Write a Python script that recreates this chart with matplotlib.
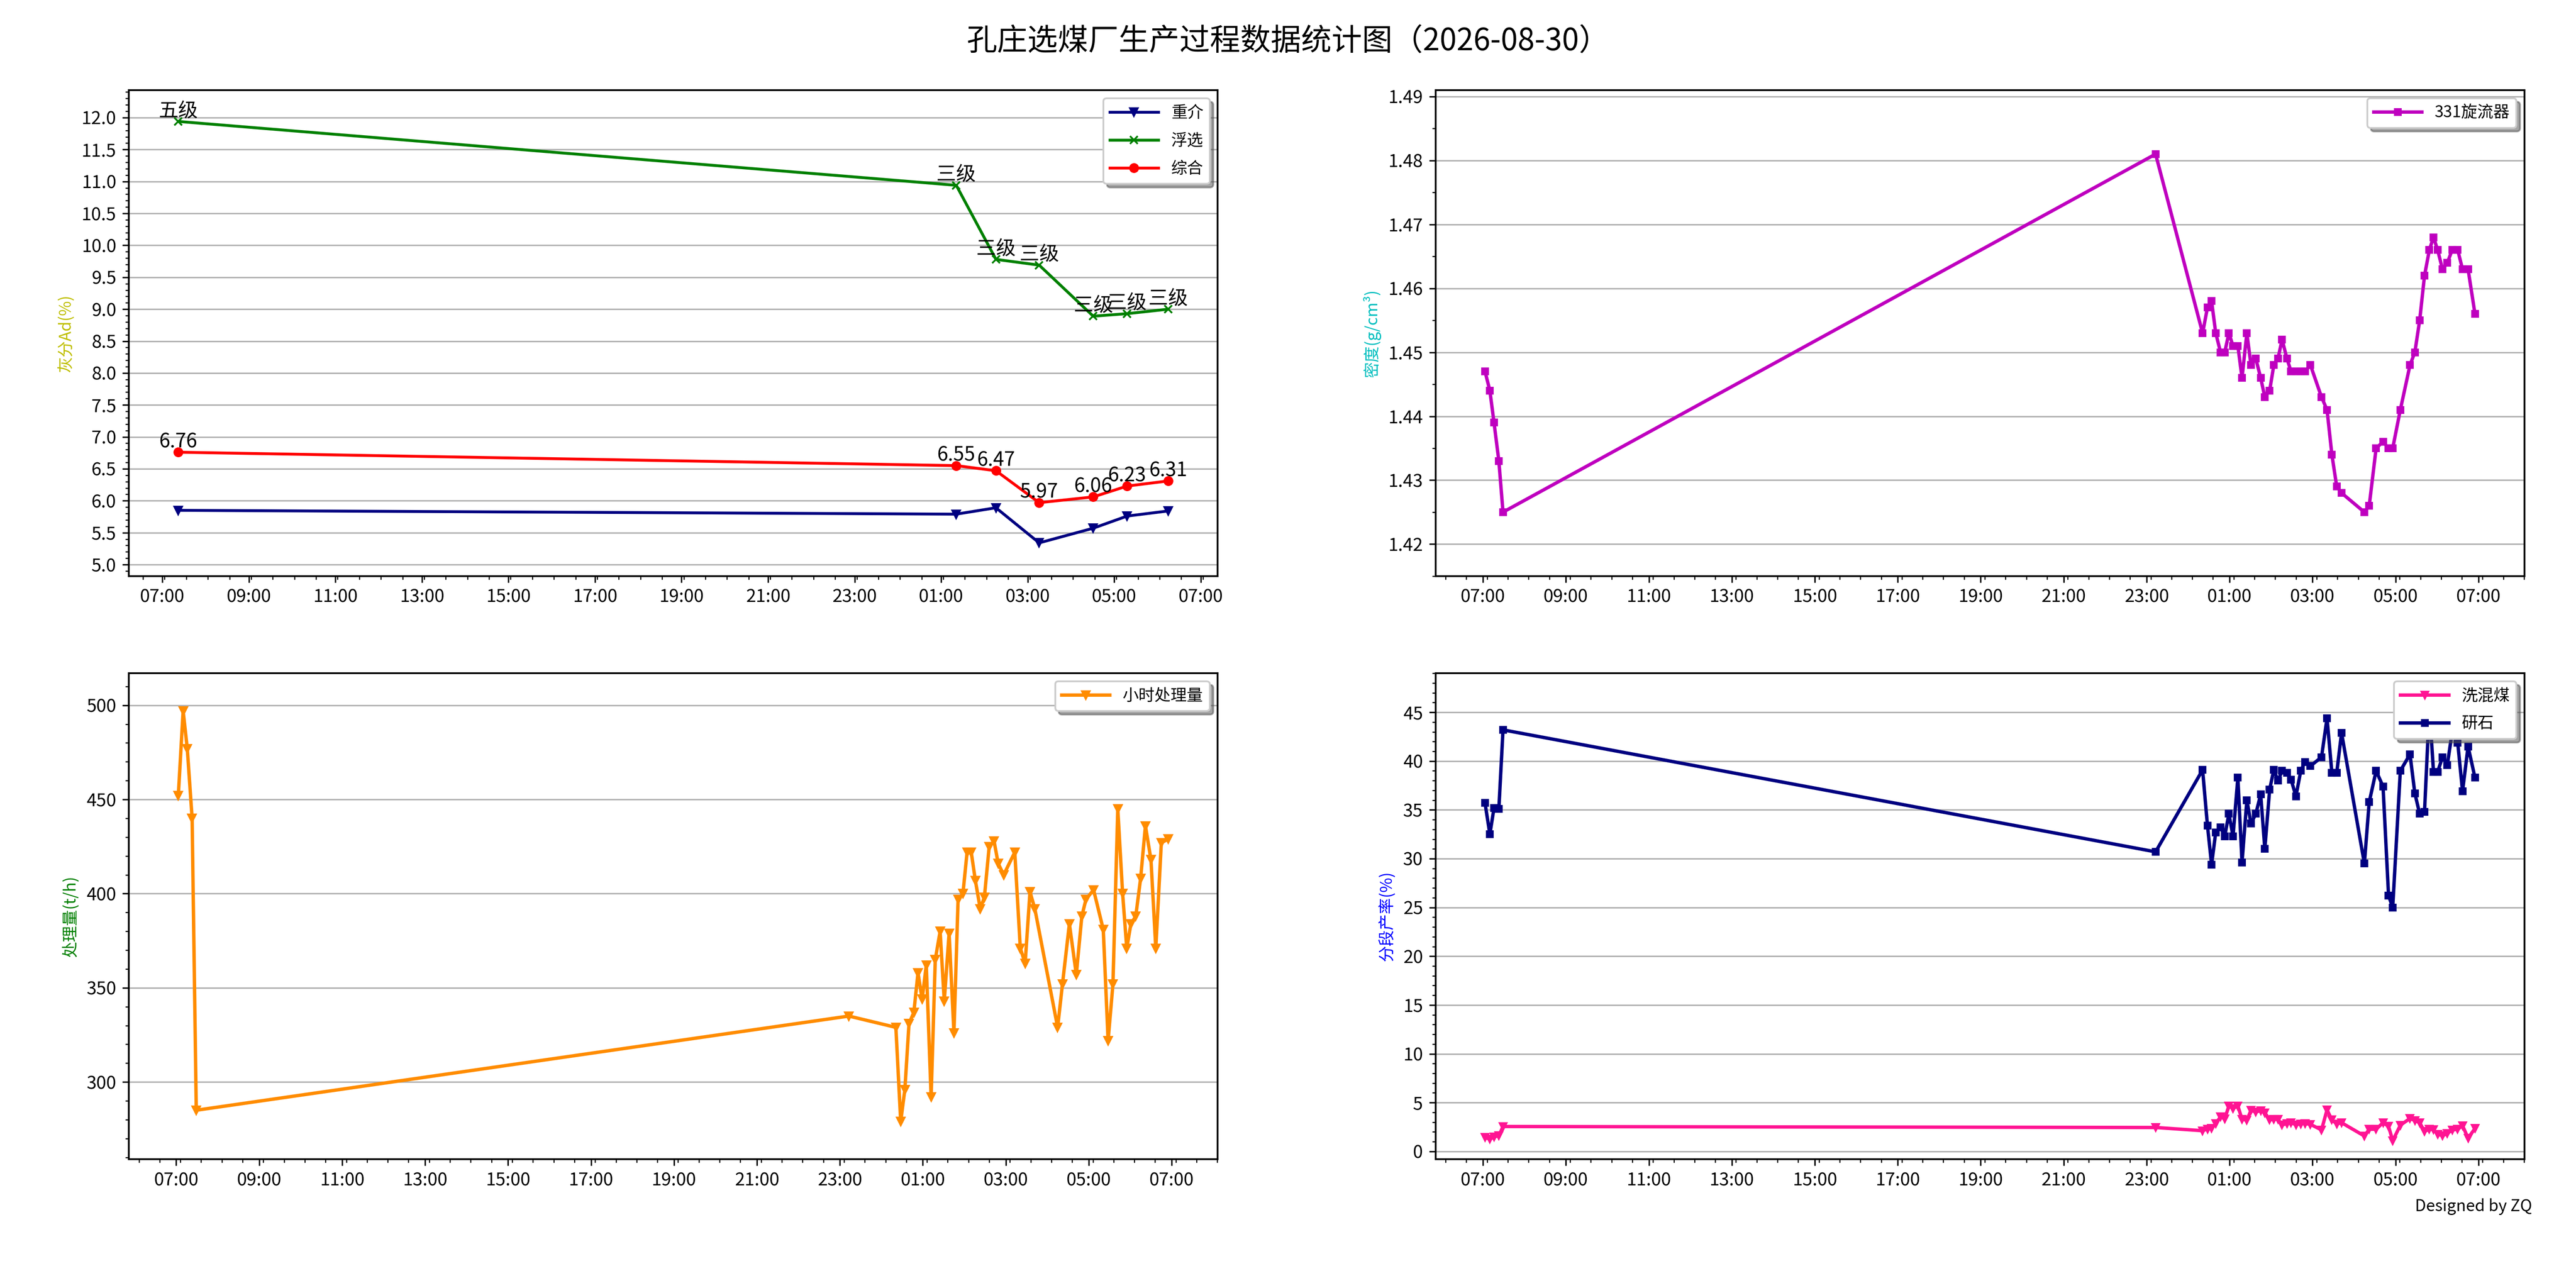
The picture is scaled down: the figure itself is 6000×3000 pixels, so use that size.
import matplotlib
matplotlib.use('Agg')
import matplotlib.pyplot as plt
import matplotlib.dates as mdates
from matplotlib.ticker import MultipleLocator, FixedLocator, FormatStrFormatter
import numpy as np
import pandas as pd

plt.rcParams['font.family'] = ['Noto Sans CJK SC', 'DejaVu Sans']
plt.rcParams['axes.unicode_minus'] = False
plt.rcParams['xtick.labelsize'] = 10
plt.rcParams['ytick.labelsize'] = 10
plt.rcParams['axes.linewidth'] = 1.0

# ---- 灰分 (hourly samples) ----
ash_times = ['07:22', '01:21', '02:16', '03:16', '04:31', '05:18', '06:15']
ash_dense = [5.85, 5.79, 5.89, 5.34, 5.57, 5.76, 5.84]
ash_flot = [11.94, 10.94, 9.78, 9.69, 8.89, 8.93, 9.00]
ash_total = [6.76, 6.55, 6.47, 5.97, 6.06, 6.23, 6.31]
flot_grade = ['五级', '三级', '三级', '三级', '三级', '三级', '三级']

# ---- process samples ----
proc_times = ['07:03', '07:10', '07:16', '07:23', '07:29',
              '23:13', '00:21', '00:28', '00:34', '00:40', '00:47', '00:53', '00:59',
              '01:05', '01:12', '01:18', '01:25', '01:31', '01:38', '01:45', '01:51',
              '01:58', '02:04', '02:10', '02:16', '02:23', '02:29', '02:36', '02:43',
              '02:49', '02:57', '03:13', '03:21', '03:28', '03:35', '03:42', '04:15',
              '04:22', '04:32', '04:42', '04:50', '04:56', '05:07', '05:21', '05:28',
              '05:35', '05:42', '05:49', '05:55', '06:01', '06:08', '06:15', '06:22',
              '06:30', '06:37', '06:45', '06:55']

density_331 = [1.447, 1.444, 1.439, 1.433, 1.425,
               1.481, 1.453, 1.457, 1.458, 1.453, 1.450, 1.450, 1.453,
               1.451, 1.451, 1.446, 1.453, 1.448, 1.449, 1.446, 1.443,
               1.444, 1.448, 1.449, 1.452, 1.449, 1.447, 1.447, 1.447,
               1.447, 1.448, 1.443, 1.441, 1.434, 1.429, 1.428, 1.425,
               1.426, 1.435, 1.436, 1.435, 1.435, 1.441, 1.448, 1.450,
               1.455, 1.462, 1.466, 1.468, 1.466, 1.463, 1.464, 1.466,
               1.466, 1.463, 1.463, 1.456]

throughput = [452, 497, 477, 440, 285,
              335, 329, 279, 296, 331, 337, 358, 344,
              362, 292, 365, 380, 343, 379, 326, 397,
              400, 422, 422, 407, 392, 398, 425, 428,
              416, 410, 422, 371, 363, 401, 392, 329,
              352, 384, 357, 388, 397, 402, 381, 322,
              352, 445, 400, 371, 384, 388, 408, 436,
              418, 371, 427, 429]

washed_mix = [1.45, 1.25, 1.5, 1.6, 2.55,
              2.45, 2.12, 2.3, 2.35, 2.86, 3.55, 3.33, 4.66,
              4.41, 4.66, 3.3, 3.19, 4.22, 4.04, 4.19, 3.97,
              3.23, 3.27, 3.3, 2.71, 2.86, 2.94, 2.74, 2.82,
              2.86, 2.77, 2.2, 4.26, 3.23, 2.82, 2.94, 1.58,
              2.27, 2.27, 2.94, 2.57, 1.09, 2.68, 3.38, 3.16,
              2.94, 2.05, 2.27, 2.23, 1.76, 1.61, 1.83, 2.2,
              2.27, 2.64, 1.36, 2.35]

gangue = [35.7, 32.5, 35.2, 35.1, 43.2,
          30.7, 39.1, 33.4, 29.4, 32.7, 33.2, 32.3, 34.6,
          32.3, 38.3, 29.6, 36.0, 33.6, 34.6, 36.6, 31.0,
          37.1, 39.1, 38.0, 39.0, 38.8, 38.1, 36.4, 39.0,
          39.9, 39.5, 40.4, 44.4, 38.8, 38.8, 42.9, 29.5,
          35.8, 39.0, 37.4, 26.2, 25.0, 39.0, 40.7, 36.7,
          34.6, 34.8, 45.5, 38.9, 38.9, 40.4, 39.6, 43.0,
          41.9, 36.9, 41.5, 38.3]


def to_dt(hm_list):
    # shift starts at 07:00 on 08-29, ends next morning
    out = []
    for hm in hm_list:
        day = '2026-08-29' if int(hm[:2]) >= 7 else '2026-08-30'
        out.append(day + ' ' + hm)
    return pd.to_datetime(out)


t_ash = to_dt(ash_times)
t_proc = to_dt(proc_times)


def style_time_axis(ax, minor_offset):
    ax.xaxis.set_major_locator(mdates.HourLocator(byhour=range(1, 24, 2)))
    ax.xaxis.set_major_formatter(mdates.DateFormatter('%H:%M'))
    lo, hi = ax.get_xlim()
    step = 1 / 48
    start = np.floor(lo / step) * step + minor_offset / 1440
    ax.xaxis.set_minor_locator(FixedLocator(np.arange(start, hi, step)))
    ax.grid(axis='y')


fig, axes = plt.subplots(2, 2, figsize=(20, 10), dpi=300)
fig.subplots_adjust(left=0.05, right=0.98, top=0.93, bottom=0.10, wspace=0.2, hspace=0.2)
fig.suptitle('孔庄选煤厂生产过程数据统计图（2026-08-30）', fontsize=17)

leg_kw = dict(loc='upper right', shadow=True, fontsize=9, handlelength=3, labelspacing=0.7)

# top-left: ash
ax = axes[0, 0]
ax.plot(t_ash, ash_dense, color='navy', marker='v', ms=4.5, lw=1.6, label='重介')
ax.plot(t_ash, ash_flot, color='g', marker='x', ms=4.5, lw=1.6, label='浮选')
ax.plot(t_ash, ash_total, color='r', marker='o', ms=4.5, lw=1.6, label='综合')
for t, v, g in zip(t_ash, ash_flot, flot_grade):
    ax.text(t, v, g, ha='center', va='bottom', fontsize=11)
for t, v in zip(t_ash, ash_total):
    ax.text(t, v, '%.2f' % v, ha='center', va='bottom', fontsize=11)
ax.set_ylim(4.82, 12.43)
ax.yaxis.set_major_locator(MultipleLocator(0.5))
ax.yaxis.set_minor_locator(MultipleLocator(0.1))
ax.yaxis.set_major_formatter(FormatStrFormatter('%.1f'))
ax.set_ylabel('灰分Ad(%)', color='y', fontsize=9)
ax.legend(**leg_kw)
style_time_axis(ax, 3)

# top-right: density
ax = axes[0, 1]
ax.plot(t_proc, density_331, color='m', marker='s', ms=3.5, lw=1.9, label='331旋流器')
ax.set_ylim(1.415, 1.491)
ax.yaxis.set_major_locator(MultipleLocator(0.01))
ax.yaxis.set_minor_locator(MultipleLocator(0.005))
ax.yaxis.set_major_formatter(FormatStrFormatter('%.2f'))
ax.set_ylabel('密度(g/cm³)', color='c', fontsize=9)
ax.legend(**leg_kw)
style_time_axis(ax, 6)

# bottom-left: throughput
ax = axes[1, 0]
ax.plot(t_proc, throughput, color='darkorange', marker='v', ms=4.5, lw=1.9, label='小时处理量')
ax.set_ylim(259, 517)
ax.yaxis.set_major_locator(MultipleLocator(50))
ax.yaxis.set_minor_locator(MultipleLocator(10))
ax.set_ylabel('处理量(t/h)', color='g', fontsize=9)
ax.legend(**leg_kw)
style_time_axis(ax, 6)

# bottom-right: yields
ax = axes[1, 1]
ax.plot(t_proc, washed_mix, color='deeppink', marker='v', ms=4, lw=1.9, label='洗混煤')
ax.plot(t_proc, gangue, color='navy', marker='s', ms=3.5, lw=1.9, label='研石')
ax.set_ylim(-0.8, 49.0)
ax.yaxis.set_major_locator(MultipleLocator(5))
ax.yaxis.set_minor_locator(MultipleLocator(1))
ax.set_ylabel('分段产率(%)', color='b', fontsize=9)
ax.legend(**leg_kw)
style_time_axis(ax, 6)

fig.text(0.983, 0.063, 'Designed by ZQ', ha='right', va='center', fontsize=9)

fig.savefig('out.png', dpi=300)
